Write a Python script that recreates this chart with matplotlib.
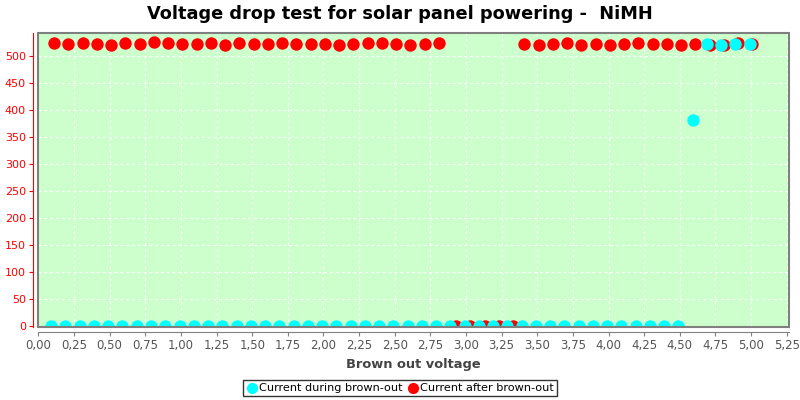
import matplotlib
matplotlib.use("Agg")
import matplotlib.pyplot as plt
from matplotlib.patches import Rectangle
from matplotlib.ticker import MultipleLocator, FuncFormatter

# brown-out voltage steps and currents (mA)
during_x = [0.09, 0.19, 0.29, 0.39, 0.49, 0.59, 0.69, 0.79, 0.89, 0.99,
            1.09, 1.19, 1.29, 1.39, 1.49, 1.59, 1.69, 1.79, 1.89, 1.99,
            2.09, 2.19, 2.29, 2.39, 2.49, 2.59, 2.69, 2.79, 2.89, 2.99,
            3.09, 3.19, 3.29, 3.39, 3.49, 3.59, 3.69, 3.79, 3.89, 3.99,
            4.09, 4.19, 4.29, 4.39, 4.49, 4.59, 4.69, 4.79, 4.89, 4.99]
during_y = [0, 0, 0, 0, 0, 0, 0, 0, 0, 0,
            0, 0, 0, 0, 0, 0, 0, 0, 0, 0,
            0, 0, 0, 0, 0, 0, 0, 0, 0, 0,
            0, 0, 0, 0, 0, 0, 0, 0, 0, 0,
            0, 0, 0, 0, 0, 381, 522, 520, 522, 522]

after_x = [0.11, 0.21, 0.31, 0.41, 0.51, 0.61, 0.71, 0.81, 0.91, 1.01,
           1.11, 1.21, 1.31, 1.41, 1.51, 1.61, 1.71, 1.81, 1.91, 2.01,
           2.11, 2.21, 2.31, 2.41, 2.51, 2.61, 2.71, 2.81, 2.93, 3.03,
           3.13, 3.23, 3.33, 3.41, 3.51, 3.61, 3.71, 3.81, 3.91, 4.01,
           4.11, 4.21, 4.31, 4.41, 4.51, 4.61, 4.71, 4.81, 4.91, 5.01]
after_y = [524, 522, 523, 522, 520, 524, 522, 525, 523, 521,
           522, 523, 520, 524, 521, 522, 523, 522, 522, 521,
           520, 521, 524, 523, 522, 520, 521, 523, 0, 0,
           0, 0, 0, 522, 520, 522, 523, 520, 522, 520,
           522, 523, 521, 521, 520, 522, 519, 520, 524, 521]

fig = plt.figure(figsize=(8, 4), dpi=100)
ax = fig.add_axes([0.048, 0.183, 0.938, 0.735])
ax.set_facecolor("#ccffcc")

ax.scatter(after_x, after_y, s=80, color="#ff0000", zorder=3,
           label="Current after brown-out", linewidths=0)
ax.scatter(during_x, during_y, s=80, color="#00ffff", zorder=4,
           label="Current during brown-out", linewidths=0)

# plot border
ax.add_patch(Rectangle((0, 0), 1, 1, transform=ax.transAxes, fill=False,
                       edgecolor="#808080", linewidth=1.5, zorder=10, clip_on=False))

ax.set_xlim(0, 5.265)
ax.set_ylim(-1.5, 542)
ax.xaxis.set_major_locator(MultipleLocator(0.25))
ax.yaxis.set_major_locator(MultipleLocator(50))
ax.xaxis.set_major_formatter(FuncFormatter(lambda v, p: f"{v:.2f}".replace(".", ",")))
ax.grid(True, color="white", linestyle=(0, (3, 3)), linewidth=0.7)
ax.set_axisbelow(True)

for s in ["top", "right"]:
    ax.spines[s].set_visible(False)
ax.spines["left"].set_position(("outward", 4))
ax.spines["bottom"].set_position(("outward", 4))
ax.spines["left"].set_color("red")
ax.spines["bottom"].set_color("#808080")
ax.tick_params(axis="y", colors="red", labelsize=8, length=3, pad=2)
ax.tick_params(axis="x", colors="#808080", labelcolor="#555555", labelsize=8.5, length=3, pad=2)

ax.set_xlabel("Brown out voltage", fontsize=9.4, fontweight="bold", color="#444444", labelpad=4)
fig.text(0.5, 0.965, "Voltage drop test for solar panel powering -  NiMH",
         ha="center", va="center", fontsize=12.8, fontweight="bold")

h, l = ax.get_legend_handles_labels()
leg = fig.legend(h[::-1], l[::-1], loc="center", bbox_to_anchor=(0.5, 0.03),
                 ncol=2, fontsize=8.1, frameon=True, fancybox=False,
                 handletextpad=0.1, columnspacing=0.5, borderpad=0.3,
                 handlelength=1.0, markerscale=0.9)
leg.get_frame().set_edgecolor("black")
leg.get_frame().set_linewidth(1)

fig.savefig("out.png", dpi=100)
